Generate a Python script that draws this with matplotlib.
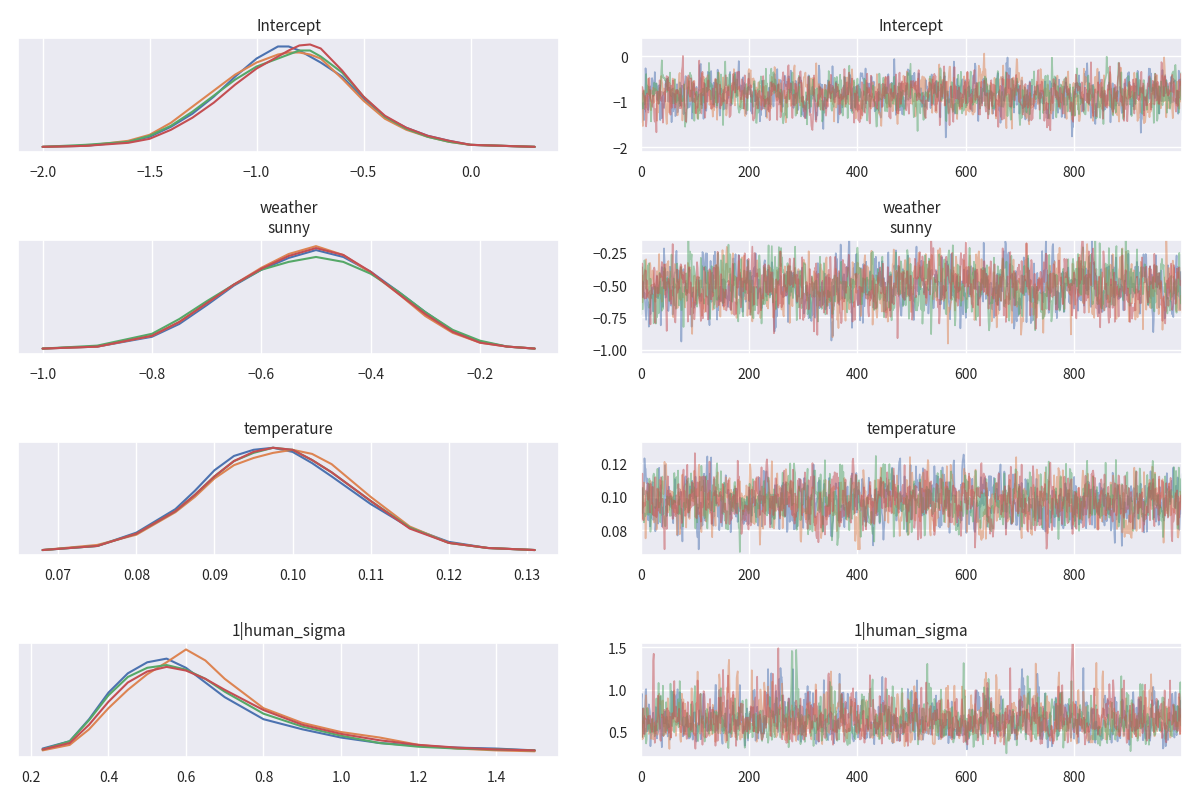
import numpy as np
import matplotlib.pyplot as plt
import seaborn as sns

sns.set_theme(style="darkgrid")
plt.rcParams['font.family'] = ['Noto Sans CJK JP', 'DejaVu Sans']

colors = ["#4c72b0", "#dd8452", "#55a868", "#c44e52"]
titles = ["Intercept", "weather\nsunny", "temperature", "1|human_sigma"]

# KDE curves (relative heights), one list per chain
int_x = [-2.0, -1.8, -1.6, -1.5, -1.4, -1.3, -1.2, -1.1, -1.0, -0.9, -0.85, -0.8, -0.75, -0.7,
         -0.6, -0.5, -0.4, -0.3, -0.2, -0.1, 0.0, 0.3]
int_y = [
    [0, 0.01, 0.05, 0.10, 0.20, 0.33, 0.50, 0.70, 0.88, 1.00, 1.00, 0.96, 0.90, 0.84,
     0.70, 0.48, 0.30, 0.19, 0.11, 0.06, 0.02, 0],
    [0, 0.01, 0.06, 0.12, 0.24, 0.40, 0.56, 0.72, 0.84, 0.92, 0.94, 0.94, 0.92, 0.88,
     0.68, 0.46, 0.28, 0.17, 0.10, 0.05, 0.02, 0],
    [0, 0.02, 0.05, 0.11, 0.21, 0.35, 0.51, 0.67, 0.80, 0.88, 0.92, 0.96, 0.96, 0.90,
     0.74, 0.50, 0.30, 0.18, 0.10, 0.05, 0.02, 0],
    [0, 0.01, 0.04, 0.08, 0.17, 0.29, 0.44, 0.62, 0.78, 0.90, 0.96, 1.01, 1.02, 0.98,
     0.76, 0.50, 0.31, 0.19, 0.11, 0.06, 0.02, 0],
]
sun_x = [-1.0, -0.9, -0.8, -0.75, -0.7, -0.65, -0.6, -0.55, -0.5, -0.45, -0.4, -0.35, -0.3,
         -0.25, -0.2, -0.15, -0.1]
sun_y = [
    [0, 0.02, 0.12, 0.25, 0.44, 0.64, 0.80, 0.92, 1.00, 0.93, 0.78, 0.58, 0.37, 0.18, 0.07, 0.02, 0],
    [0, 0.02, 0.13, 0.27, 0.46, 0.65, 0.82, 0.96, 1.04, 0.95, 0.77, 0.56, 0.33, 0.16, 0.06, 0.02, 0],
    [0, 0.03, 0.15, 0.30, 0.48, 0.65, 0.80, 0.88, 0.93, 0.88, 0.76, 0.58, 0.37, 0.19, 0.08, 0.02, 0],
    [0, 0.02, 0.13, 0.27, 0.46, 0.65, 0.81, 0.94, 1.02, 0.95, 0.78, 0.56, 0.35, 0.17, 0.06, 0.02, 0],
]
tem_x = [0.068, 0.075, 0.08, 0.085, 0.0875, 0.09, 0.0925, 0.095, 0.0975, 0.10, 0.1025, 0.105,
         0.11, 0.115, 0.12, 0.125, 0.131]
tem_y = [
    [0, 0.04, 0.17, 0.40, 0.58, 0.78, 0.92, 0.98, 1.00, 0.96, 0.85, 0.72, 0.45, 0.22, 0.08, 0.02, 0],
    [0, 0.05, 0.15, 0.37, 0.52, 0.70, 0.83, 0.90, 0.95, 0.98, 0.94, 0.84, 0.52, 0.23, 0.07, 0.02, 0],
    [0, 0.04, 0.16, 0.38, 0.54, 0.72, 0.87, 0.95, 1.00, 0.98, 0.88, 0.76, 0.48, 0.22, 0.07, 0.02, 0],
    [0, 0.04, 0.16, 0.38, 0.54, 0.72, 0.87, 0.96, 1.00, 0.98, 0.88, 0.76, 0.48, 0.21, 0.07, 0.02, 0],
]
sig_x = [0.23, 0.3, 0.35, 0.4, 0.45, 0.5, 0.55, 0.6, 0.65, 0.7, 0.8, 0.9, 1.0, 1.1, 1.2, 1.3, 1.4, 1.5]
sig_y = [
    [0.04, 0.12, 0.36, 0.65, 0.86, 0.98, 1.02, 0.92, 0.76, 0.60, 0.36, 0.25, 0.16, 0.10, 0.07, 0.05, 0.04, 0.02],
    [0.02, 0.08, 0.25, 0.48, 0.68, 0.85, 0.98, 1.12, 1.00, 0.80, 0.48, 0.32, 0.22, 0.16, 0.08, 0.04, 0.02, 0.01],
    [0.03, 0.12, 0.35, 0.62, 0.82, 0.92, 0.95, 0.90, 0.80, 0.66, 0.42, 0.28, 0.18, 0.10, 0.06, 0.04, 0.03, 0.02],
    [0.03, 0.10, 0.30, 0.55, 0.76, 0.88, 0.93, 0.89, 0.80, 0.68, 0.46, 0.30, 0.20, 0.13, 0.08, 0.05, 0.03, 0.02],
]
kde_x = [int_x, sun_x, tem_x, sig_x]
kde_y = [int_y, sun_y, tem_y, sig_y]
kde_xticks = [[-2.0, -1.5, -1.0, -0.5, 0.0], [-1.0, -0.8, -0.6, -0.4, -0.2],
              [0.07, 0.08, 0.09, 0.10, 0.11, 0.12, 0.13], [0.2, 0.4, 0.6, 0.8, 1.0, 1.2, 1.4]]

# trace summaries: centre, spread, y limits, y ticks
trace_mean = [-0.85, -0.51, 0.097, 0.62]
trace_sd = [0.27, 0.13, 0.0095, 0.2]
trace_ylim = [(-2.1, 0.4), (-1.03, -0.15), (0.065, 0.133), (0.2, 1.55)]
trace_yticks = [[-2, -1, 0], [-1.0, -0.75, -0.5, -0.25], [0.08, 0.10, 0.12], [0.5, 1.0, 1.5]]
n_draws = 1000

rng = np.random.default_rng(3)
fig, axes = plt.subplots(4, 2, figsize=(12, 8.03), dpi=100)
for i in range(4):
    ax = axes[i, 0]
    for c in range(4):
        ax.plot(kde_x[i], kde_y[i][c], color=colors[c], lw=1.5)
    ax.set_xticks(kde_xticks[i])
    ax.set_yticks([])
    ax.set_ylim(-0.05, max(max(y) for y in kde_y[i]) * 1.06)
    ax.set_title(titles[i], fontsize=11)
    ax.tick_params(labelsize=10)

    ax = axes[i, 1]
    for c in range(4):
        e = rng.normal(size=n_draws)
        s = np.zeros(n_draws)
        for t in range(1, n_draws):
            s[t] = 0.5 * s[t - 1] + e[t]
        s = s / s.std()
        if i == 3:
            vals = trace_mean[i] * np.exp(0.26 * s)
        else:
            vals = trace_mean[i] + trace_sd[i] * s
        ax.plot(np.arange(n_draws), vals, color=colors[c], alpha=0.5, lw=1.2)
    ax.set_xlim(0, n_draws - 1)
    ax.set_ylim(*trace_ylim[i])
    ax.set_yticks(trace_yticks[i])
    ax.set_xticks([0, 200, 400, 600, 800])
    ax.set_title(titles[i], fontsize=11)
    ax.tick_params(labelsize=10)

fig.tight_layout(h_pad=1.2, w_pad=2)
fig.savefig("out.png")
